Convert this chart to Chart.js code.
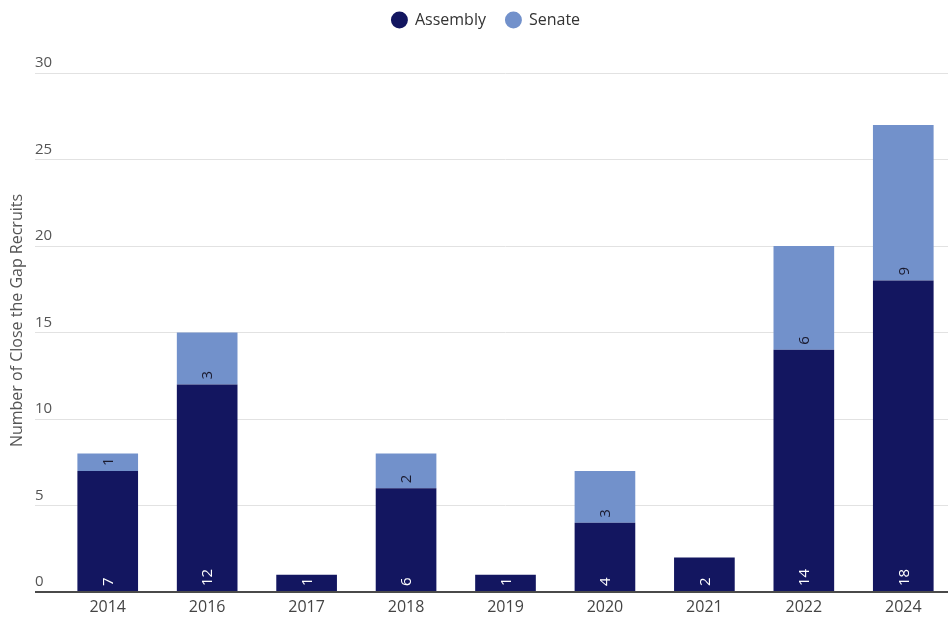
<!DOCTYPE html>
<html>
<head>
<meta charset="utf-8">
<script src="https://cdn.jsdelivr.net/npm/chart.js@4"></script>
<style>
  html, body { margin: 0; padding: 0; background: #fff; overflow: hidden; }
  #wrap { width: 953px; height: 617px; }
</style>
</head>
<body>
<div id="wrap"><canvas id="canvas"></canvas></div>
<script>
var years = ['2014', '2016', '2017', '2018', '2019', '2020', '2021', '2022', '2024'];
var assembly = [7, 12, 1, 6, 1, 4, 2, 14, 18];
var senate = [1, 3, 0, 2, 0, 3, 0, 6, 9];
var yTicks = [0, 5, 10, 15, 20, 25, 30];

Chart.defaults.font.family = "'Open Sans', sans-serif";
Chart.defaults.color = '#444';

// rotated value labels sitting at the bottom of each segment
var segmentLabels = {
    id: 'segmentLabels',
    afterDatasetsDraw: function(chart) {
        var ctx = chart.ctx;
        chart.data.datasets.forEach(function(ds, i) {
            var meta = chart.getDatasetMeta(i);
            meta.data.forEach(function(bar, j) {
                var v = ds.data[j];
                if (!v) return;
                ctx.save();
                ctx.translate(bar.x, bar.base - 5);
                ctx.rotate(-Math.PI / 2);
                ctx.font = "15px 'Open Sans', sans-serif";
                ctx.fillStyle = ds.labelColor;
                ctx.textAlign = 'left';
                ctx.textBaseline = 'middle';
                ctx.fillText(String(v), 0, 1);
                ctx.restore();
            });
        });
    }
};

// legend: wide item spacing, but kept near the top with room below it
var legendGap = {
    id: 'legendGap',
    beforeLayout: function(chart) {
        var lg = chart.legend;
        if (!lg || lg._gapped) return;
        var fit = lg.fit;
        lg.fit = function() {
            fit.call(this);
            this.height += 27;
        };
        lg._gapped = true;
    },
    afterLayout: function(chart) {
        var lg = chart.legend;
        if (lg) {
            lg.top -= 8;
            lg.bottom -= 8;
            lg.left += 9.5;
            lg.right += 9.5;
        }
        // lift the axis title a little
        var t = chart.scales.yTitle;
        if (t) {
            t.top -= 12;
            t.bottom -= 12;
        }
    }
};

var ctx = document.getElementById('canvas').getContext('2d');
var myChart = new Chart(ctx, {
    type: 'bar',
    data: {
        labels: years,
        datasets: [{
            label: 'Assembly',
            data: assembly,
            backgroundColor: '#131660',
            labelColor: '#ffffff',
            barPercentage: 0.61,
            categoryPercentage: 1
        }, {
            label: 'Senate',
            data: senate,
            backgroundColor: '#7291cb',
            labelColor: '#1a1a2e',
            barPercentage: 0.61,
            categoryPercentage: 1
        }]
    },
    plugins: [segmentLabels, legendGap],
    options: {
        responsive: true,
        maintainAspectRatio: false,
        animation: false,
        plugins: {
            legend: {
                position: 'top',
                labels: {
                    usePointStyle: true,
                    pointStyle: 'circle',
                    boxWidth: 15,
                    boxHeight: 12,
                    padding: 20,
                    color: '#333',
                    font: { size: 16 }
                }
            },
            tooltip: { enabled: false }
        },
        scales: {
            x: {
                stacked: true,
                grid: { display: false, drawTicks: false },
                border: { display: false },
                ticks: { padding: 6, color: '#444', font: { size: 16 } },
                afterFit: function(scale) { scale.height = 25; }
            },
            y: {
                stacked: true,
                min: 0,
                max: 30,
                weight: 0,
                afterBuildTicks: function(scale) {
                    scale.ticks = yTicks.map(function(v) { return { value: v }; });
                },
                afterFit: function(scale) { scale.width = 23; },
                border: { display: false },
                grid: {
                    color: function(c) { return c.tick && c.tick.value === 0 ? '#4a4a4a' : '#e2e2e2'; },
                    lineWidth: function(c) { return c.tick && c.tick.value === 0 ? 2 : 1; },
                    tickLength: 23
                },
                ticks: {
                    crossAlign: 'far',
                    padding: 0,
                    labelOffset: -10,
                    color: '#555',
                    font: { size: 15 }
                }
            },
            yTitle: {
                type: 'linear',
                position: 'left',
                weight: 1,
                grid: { display: false, drawTicks: false },
                border: { display: false },
                ticks: { display: false },
                title: {
                    display: true,
                    text: 'Number of Close the Gap Recruits',
                    color: '#555',
                    font: { size: 16 },
                    padding: { top: 8, bottom: 0 }
                },
                afterFit: function(scale) { scale.width = 35; }
            }
        }
    }
});
</script>
</body>
</html>
